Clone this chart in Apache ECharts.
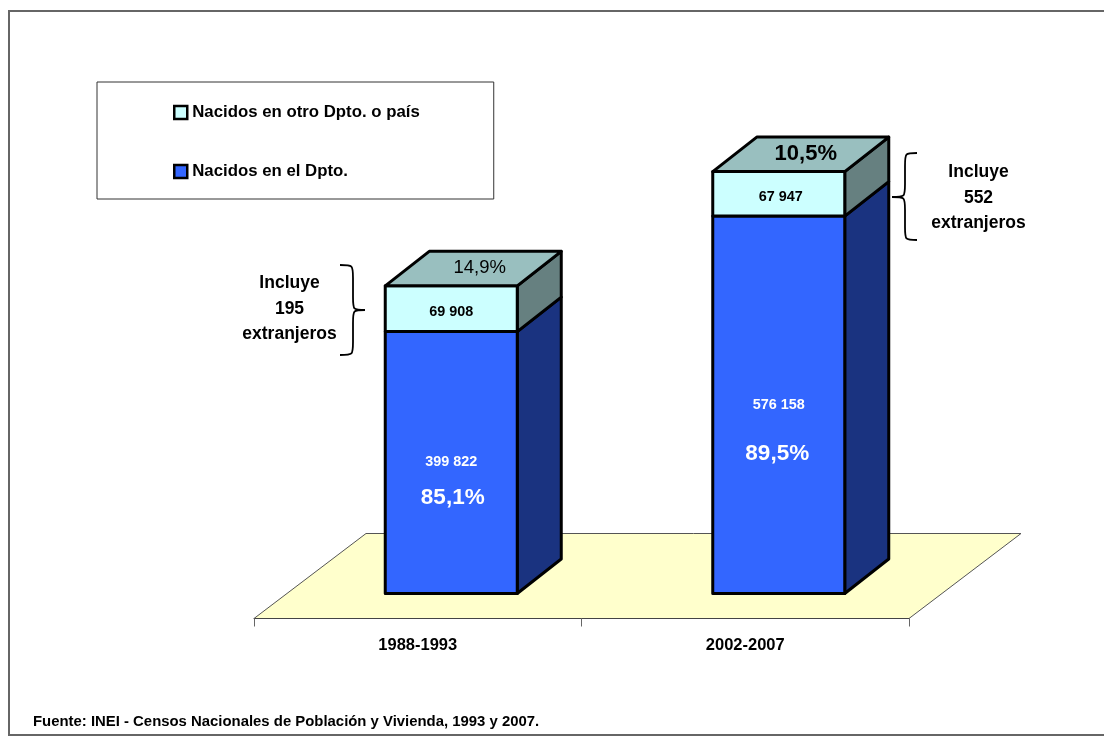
<!DOCTYPE html>
<html><head><meta charset="utf-8">
<style>html,body{margin:0;padding:0;background:#fff}#c{width:1104px;height:744px}</style>
<script src="https://cdn.jsdelivr.net/npm/echarts@6/dist/echarts.min.js"></script>
</head><body><div id="c"></div>
<script>
const categories = ['1988-1993', '2002-2007'];
const nacidosDpto = [399822, 576158];
const nacidosOtro = [69908, 67947];
const labelsDpto = ['399 822', '576 158'];
const labelsOtro = ['69 908', '67 947'];
const pctDpto = ['85,1%', '89,5%'];
const pctOtro = ['14,9%', '10,5%'];
const nameDpto = 'Nacidos en el Dpto.';
const nameOtro = 'Nacidos en otro Dpto. o país';
const fuente = 'Fuente: INEI - Censos Nacionales de Población y Vivienda, 1993 y 2007.';
const notes = ['Incluye\n195\nextranjeros', 'Incluye\n552\nextranjeros'];

const FONT = '"Liberation Sans", Arial, sans-serif';
const DX = 44, DY = -34.5, HALF = 66, SHIFT = 33.5;

function prism(params, api, colors) {
  const c = api.coord([api.value(0), api.value(1)]);
  const t = api.coord([api.value(0), api.value(2)]);
  const l = c[0] + SHIFT - HALF, r = c[0] + SHIFT + HALF, b = c[1], u = t[1];
  const st = {stroke: '#000', lineWidth: 3, lineJoin: 'round'};
  const kids = [
    {type: 'polygon', shape: {points: [[r, u], [r + DX, u + DY], [r + DX, b + DY], [r, b]]}, style: {fill: colors.side, ...st}},
    {type: 'rect', shape: {x: l, y: u, width: r - l, height: b - u}, style: {fill: colors.front, ...st}}
  ];
  if (colors.top) kids.push({type: 'polygon', shape: {points: [[l, u], [l + DX, u + DY], [r + DX, u + DY], [r, u]]}, style: {fill: colors.top, ...st}});
  return {type: 'group', children: kids};
}
function txt(x, y, text, fill, size, weight) {
  return {type: 'text', x, y, style: {text, fill, font: `${weight} ${size}px ${FONT}`, align: 'center', verticalAlign: 'middle'}};
}
function curve(x1, y1, cx1, cy1, cx2, cy2, x2, y2) {
  return {type: 'bezierCurve', shape: {x1, y1, x2, y2, cpx1: cx1, cpy1: cy1, cpx2: cx2, cpy2: cy2}, style: {fill: 'none', stroke: '#000', lineWidth: 1.8}};
}
function seg(x1, y1, x2, y2) {
  return {type: 'line', shape: {x1, y1, x2, y2}, style: {stroke: '#000', lineWidth: 1.8}};
}
function brace(tipX, spineX, endX, y0, ym, y1) {
  const r = 13;
  return [
    curve(endX, y0, spineX, y0, spineX, y0, spineX, y0 + r),
    seg(spineX, y0 + r, spineX, ym - r),
    curve(spineX, ym - r, spineX, ym, spineX, ym, tipX, ym),
    curve(tipX, ym, spineX, ym, spineX, ym, spineX, ym + r),
    seg(spineX, ym + r, spineX, y1 - r),
    curve(spineX, y1 - r, spineX, y1, spineX, y1, endX, y1)
  ];
}

const option = {
  animation: false,
  backgroundColor: '#fff',
  grid: {left: 254, width: 655, top: 135, height: 458.5},
  legend: {
    left: 97, top: 82, orient: 'vertical', align: 'left',
    padding: [22, 74, 19, 76], itemGap: 42, itemWidth: 13, itemHeight: 13,
    borderColor: '#333', borderWidth: 1, backgroundColor: '#fff',
    icon: 'rect', data: [nameOtro, nameDpto],
    itemStyle: {borderColor: '#000', borderWidth: 2.5},
    textStyle: {fontFamily: FONT, fontWeight: 'bold', fontSize: 16.8, color: '#000'}
  },
  xAxis: {
    type: 'category', data: categories, offset: 25, z: 5,
    axisLine: {show: true, onZero: false, lineStyle: {color: '#444', width: 1}},
    axisTick: {show: true, length: 8, lineStyle: {color: '#666'}},
    axisLabel: {color: '#000', fontFamily: FONT, fontWeight: 'bold', fontSize: 16.5, margin: 18}
  },
  yAxis: {type: 'value', min: 0, max: 700000, show: false, splitLine: {show: false}},
  graphic: [
    {type: 'rect', z: -10, shape: {x: 9, y: 11, width: 1200, height: 724}, style: {fill: '#fff', stroke: '#666', lineWidth: 2}},
    {type: 'text', x: 33, y: 722, style: {text: fuente, fill: '#000', font: `bold 14.9px ${FONT}`, verticalAlign: 'middle'}},
    {type: 'text', x: 289.5, y: 309, style: {text: notes[0], fill: '#000', font: `bold 17.5px ${FONT}`, align: 'center', verticalAlign: 'middle', lineHeight: 25.5}},
    {type: 'text', x: 978.5, y: 198, style: {text: notes[1], fill: '#000', font: `bold 17.5px ${FONT}`, align: 'center', verticalAlign: 'middle', lineHeight: 25.5}},
    {type: 'group', children: brace(365, 353, 340, 265, 310, 355)},
    {type: 'group', children: brace(892, 905, 917, 153, 197, 240)}
  ],
  series: [
    {
      type: 'custom', name: 'floor', z: 1, silent: true, legendHoverLink: false,
      data: [[0]], encode: {x: 0},
      renderItem(params, api) {
        const g = params.coordSys, y = g.y + g.height + 25;
        return {type: 'polygon', shape: {points: [[g.x, y], [g.x + g.width, y], [g.x + g.width + 112, y - 85], [g.x + 112, y - 85]]}, style: {fill: '#FFFFCC', stroke: '#555', lineWidth: 1}};
      }
    },
    {
      type: 'custom', name: nameDpto, z: 6, itemStyle: {color: '#3366FF'},
      encode: {x: 0, y: [1, 2]},
      data: nacidosDpto.map((v, i) => [i, 0, v]),
      renderItem(params, api) {
        const g = prism(params, api, {front: '#3366FF', side: '#1A3380'});
        const i = params.dataIndex;
        const c = api.coord([i, 0]);
        const x = c[0] + SHIFT;
        g.children.push(txt(x, (i === 0 ? 462 : 405), labelsDpto[i], '#fff', 14.4, 'bold'));
        g.children.push(txt(i === 0 ? x + 1.5 : x - 1.5, (i === 0 ? 498 : 454), pctDpto[i], '#fff', 22.5, 'bold'));
        return g;
      }
    },
    {
      type: 'custom', name: nameOtro, z: 7, itemStyle: {color: '#CCFFFF'},
      encode: {x: 0, y: [1, 2]},
      data: nacidosOtro.map((v, i) => [i, nacidosDpto[i], nacidosDpto[i] + v]),
      renderItem(params, api) {
        const g = prism(params, api, {front: '#CCFFFF', side: '#668080', top: '#99BFBF'});
        const i = params.dataIndex;
        const lo = api.coord([i, api.value(1)]), hi = api.coord([i, api.value(2)]);
        const x = lo[0] + SHIFT;
        g.children.push(txt(x + (i === 0 ? 0 : 2), (lo[1] + hi[1]) / 2 + 3, labelsOtro[i], '#000', 14.4, 'bold'));
        g.children.push(i === 0
          ? txt(x + 28.5, hi[1] - 18, pctOtro[i], '#000', 18.5, 'normal')
          : txt(x + 27, hi[1] - 18, pctOtro[i], '#000', 22, 'bold'));
        return g;
      }
    }
  ]
};
const chart = echarts.init(document.getElementById('c'), null, {renderer: 'canvas'});
chart.setOption(option);
</script></body></html>
